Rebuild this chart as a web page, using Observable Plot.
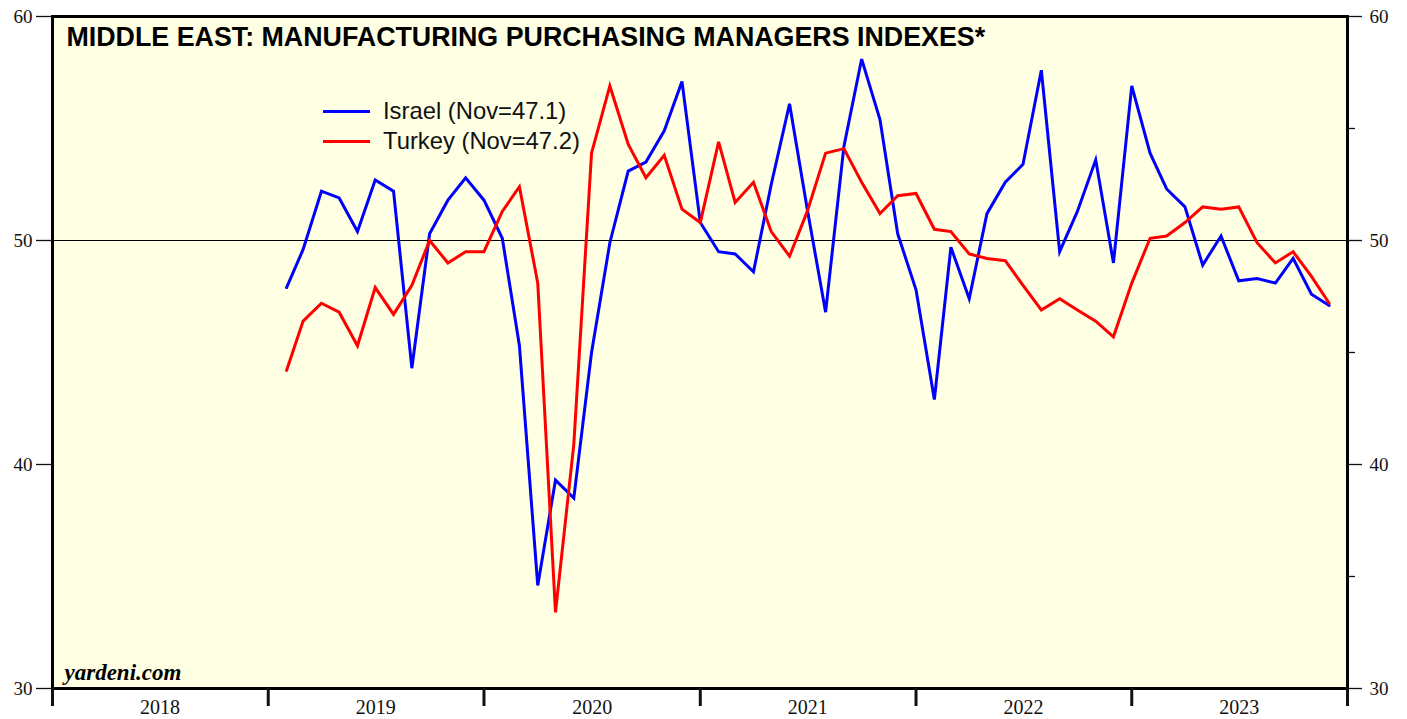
<!DOCTYPE html>
<html>
<head>
<meta charset="utf-8">
<script src="https://cdn.jsdelivr.net/npm/d3@7"></script>
<script src="https://cdn.jsdelivr.net/npm/@observablehq/plot@0.6"></script>
<style>
  html, body { margin: 0; padding: 0; background: #fff; }
  #wrap { position: relative; width: 1407px; height: 719px; overflow: hidden; }
  #legend { position: absolute; left: 323px; top: 96px; font-family: "Liberation Sans", Arial, sans-serif; font-size: 23.8px; color: #111; }
  .row { display: flex; align-items: center; height: 30px; }
  .sw { width: 47px; height: 0; border-top: 3px solid; margin-right: 13px; }
</style>
</head>
<body>
<div id="wrap"></div>
<script>
// Monthly PMI, Jan 2019 .. Nov 2023 (plotted at month end)
const israel = [
  47.9, 49.6, 52.2, 51.9, 50.4, 52.7, 52.2, 44.3, 50.3, 51.8, 52.8, 51.8,
  50.1, 45.3, 34.6, 39.3, 38.5, 45.0, 49.9, 53.1, 53.5, 54.9, 57.1, 50.8,
  49.5, 49.4, 48.6, 52.5, 56.1, 51.4, 46.8, 54.2, 58.1, 55.4, 50.3, 47.8,
  42.9, 49.7, 47.4, 51.2, 52.6, 53.4, 57.6, 49.5, 51.3, 53.6, 49.0, 56.9,
  53.9, 52.3, 51.5, 48.9, 50.2, 48.2, 48.3, 48.1, 49.2, 47.6, 47.1
];
const turkey = [
  44.2, 46.4, 47.2, 46.8, 45.3, 47.9, 46.7, 48.0, 50.0, 49.0, 49.5, 49.5,
  51.3, 52.4, 48.1, 33.4, 40.9, 53.9, 56.9, 54.3, 52.8, 53.8, 51.4, 50.8,
  54.4, 51.7, 52.6, 50.4, 49.3, 51.3, 53.9, 54.1, 52.6, 51.2, 52.0, 52.1,
  50.5, 50.4, 49.4, 49.2, 49.1, 48.0, 46.9, 47.4, 46.9, 46.4, 45.7, 48.1,
  50.1, 50.2, 50.8, 51.5, 51.4, 51.5, 49.9, 49.0, 49.5, 48.4, 47.2
];
const yearLabels = ["2018", "2019", "2020", "2021", "2022", "2023"];
const yMajor = [30, 40, 50, 60];
const yMinor = [35, 45, 55];
const seriesNames = ["Israel (Nov=47.1)", "Turkey (Nov=47.2)"];
const seriesColors = ["#0000ff", "#ff0000"];
const title = "MIDDLE EAST: MANUFACTURING PURCHASING MANAGERS INDEXES*";
const source = "yardeni.com";

// month-end dates for Jan 2019 .. Nov 2023
const monthEnds = d3.utcMonths(new Date(Date.UTC(2019, 1, 1)), new Date(Date.UTC(2023, 11, 2)));
const rows = [];
monthEnds.forEach((d, i) => {
  rows.push({date: d, value: israel[i], series: "Israel"});
  rows.push({date: d, value: turkey[i], series: "Turkey"});
});
const yearStarts = yearLabels.map(y => new Date(Date.UTC(+y, 0, 1))).concat([new Date(Date.UTC(2024, 0, 1))]);
const midYears = yearLabels.map(y => new Date(Date.UTC(+y, 6, 2)));

const serif = "'Liberation Serif', 'Times New Roman', serif";
const sans = "'Liberation Sans', Arial, sans-serif";

const chart = Plot.plot({
  width: 1407,
  height: 719,
  marginLeft: 52,
  marginRight: 60,
  marginTop: 16,
  marginBottom: 31,
  style: {fontFamily: serif, fontSize: "19px", color: "#111", background: "transparent"},
  x: {type: "utc", domain: [yearStarts[0], yearStarts[yearStarts.length - 1]], label: null},
  y: {domain: [30, 60], label: null},
  color: {domain: ["Israel", "Turkey"], range: seriesColors},
  marks: [
    Plot.frame({fill: "#ffffe3", stroke: null}),
    Plot.ruleY([50], {stroke: "#000", strokeWidth: 1}),
    Plot.line(rows, {x: "date", y: "value", z: "series", stroke: "series", strokeWidth: 3, strokeLinejoin: "miter", strokeMiterlimit: 4}),
    Plot.frame({stroke: "#000", strokeWidth: 3}),
    // left axis
    Plot.axisY({anchor: "left", ticks: yMajor, tickSize: 16, tickPadding: 4, tickFormat: d3.format("d"), strokeWidth: 1.3, label: null}),
    // right axis
    Plot.axisY({anchor: "right", ticks: yMajor, tickSize: 14, tickPadding: 8, tickFormat: d3.format("d"), strokeWidth: 1.3, label: null}),
    Plot.axisY({anchor: "right", ticks: yMinor, tickSize: 7, tickFormat: () => "", strokeWidth: 1.3, label: null}),
    // bottom: year boundary ticks and centred year labels
    Plot.axisX({ticks: yearStarts, tickSize: 18, tickFormat: () => "", strokeWidth: 3, label: null}),
    Plot.axisX({ticks: midYears, tickSize: 0, tickPadding: 11, tickFormat: d3.utcFormat("%Y"), fontSize: 20, label: null}),
    // texts
    Plot.text([title], {frameAnchor: "top-left", dx: 14, dy: 29, lineAnchor: "bottom", textAnchor: "start",
      fontFamily: sans, fontWeight: "bold", fontSize: 26.8, fill: "#000"}),
    Plot.text([source], {frameAnchor: "bottom-left", dx: 12, dy: -9, lineAnchor: "bottom", textAnchor: "start",
      fontFamily: serif, fontWeight: "bold", fontStyle: "italic", fontSize: 23, fill: "#000"})
  ]
});

const wrap = document.getElementById("wrap");
wrap.appendChild(chart);

const legend = document.createElement("div");
legend.id = "legend";
seriesNames.forEach((name, i) => {
  const row = document.createElement("div");
  row.className = "row";
  const sw = document.createElement("div");
  sw.className = "sw";
  sw.style.borderTopColor = seriesColors[i];
  const label = document.createElement("span");
  label.textContent = name;
  row.appendChild(sw);
  row.appendChild(label);
  legend.appendChild(row);
});
wrap.appendChild(legend);
</script>
</body>
</html>
